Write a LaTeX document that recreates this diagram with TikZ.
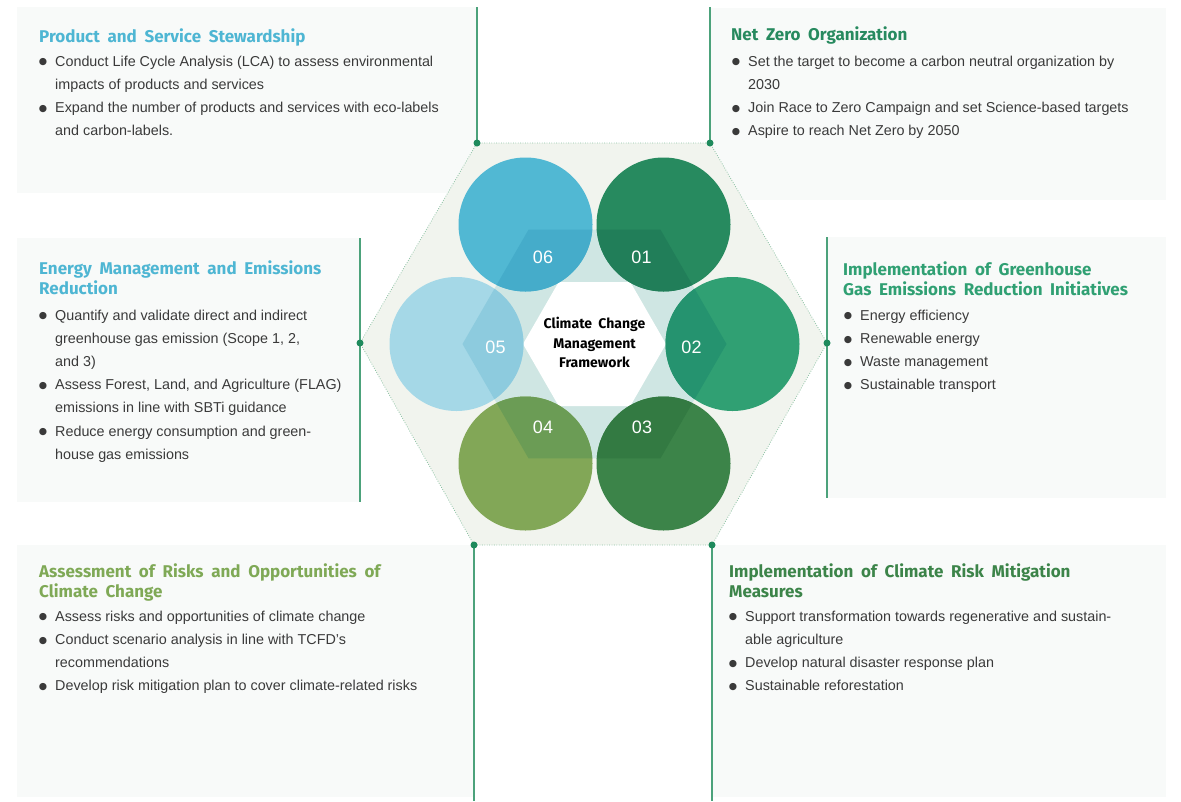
\documentclass[tikz,border=0pt]{standalone}
\usepackage{fontspec}
\setmainfont{Liberation Sans}
\newfontfamily\titlefont{Fira Sans}[WordSpace=1.9]
\newfontfamily\dejavu{DejaVu Sans}
\usetikzlibrary{calc}
\definecolor{panelbg}{HTML}{F8FAF9}
\definecolor{hexbg}{HTML}{F1F4EE}
\definecolor{hexborder}{HTML}{8CC2A4}
\definecolor{tealc}{HTML}{CFE6E3}
\definecolor{linec}{HTML}{4CA27B}
\definecolor{dotc}{HTML}{1E8A5C}
\definecolor{bodyc}{HTML}{3A3A3A}
\definecolor{cA}{HTML}{278A5F}\definecolor{cAd}{HTML}{217E59}
\definecolor{cB}{HTML}{30A073}\definecolor{cBd}{HTML}{25936F}
\definecolor{cC}{HTML}{3C8449}\definecolor{cCd}{HTML}{337A42}
\definecolor{cD}{HTML}{82A757}\definecolor{cDd}{HTML}{6B9C55}
\definecolor{cE}{HTML}{A5D8E7}\definecolor{cEd}{HTML}{8DCBDE}
\definecolor{cF}{HTML}{51B8D3}\definecolor{cFd}{HTML}{45ACCA}
\definecolor{tF}{HTML}{4EB6D3}
\definecolor{tD}{HTML}{7FA956}
\newcommand\bulsym{\raisebox{1.2pt}{\dejavu\fontsize{9.5}{9.5}\selectfont ●}}
\tikzset{
  panelbox/.style={fill=panelbg, draw=none},
  vline/.style={draw=linec, line width=1.5pt},
  dotnode/.style={circle, fill=dotc, inner sep=0pt, minimum size=7pt},
  bodytxt/.style={anchor=base west, inner sep=0pt, text=bodyc, font=\fontsize{14.35}{16}\selectfont},
  titletxt/.style={anchor=base west, inner sep=0pt, font=\titlefont\bfseries\fontsize{17}{19}\selectfont},
  numlab/.style={text=white, inner sep=0pt, font=\fontsize{18}{20}\selectfont},
  bubble/.style={circle, minimum size=134pt, inner sep=0pt, outer sep=0pt, draw=none},
  centertxt/.style={align=center, inner sep=0pt, text=black, font=\titlefont\bfseries\fontsize{14}{19.7}\selectfont},
}
\newcommand\bodylines[4]{%
  \foreach \kind/\txt [count=\i] in {#4} {
    \node[bodytxt] (#1-\i) at (#2,{#3+23.2*(\i-1)}) {\ifnum\kind=1 \llap{\bulsym\hspace{8pt}}\fi\txt};
  }}
\newcommand\titlelines[5]{%
  \foreach \txt [count=\i] in {#5} {
    \node[titletxt, text=#4] (#1-\i) at (#2,{#3+20.5*(\i-1)}) {\txt};
  }}
\begin{document}
\begin{tikzpicture}[x=1pt,y=-1pt]
\useasboundingbox (0,0) rectangle (1181,801);
% panels
\fill[panelbox] (17,7) rectangle (477,193);
\fill[panelbox] (710,8) rectangle (1166,200);
\fill[panelbox] (17,238) rectangle (360,502);
\fill[panelbox] (827,237) rectangle (1166,498);
\fill[panelbox] (17,545) rectangle (474,797);
\fill[panelbox] (712,545) rectangle (1166,797);
% hexagon corner coordinates
\coordinate (h1) at (477,143);
\coordinate (h2) at (710,143);
\coordinate (h3) at (827,343);
\coordinate (h4) at (712,545);
\coordinate (h5) at (474,545);
\coordinate (h6) at (360,343);
\fill[hexbg] (h1) -- (h2) -- (h3) -- (h4) -- (h5) -- (h6) -- cycle;
\draw[hexborder, line width=0.8pt, dash pattern=on 0.8pt off 1.6pt] (h1) -- (h2) -- (h3) -- (h4) -- (h5) -- (h6) -- cycle;
% inner hexagons
\coordinate (c) at (594.5,344);
\def\tealhex{(726.5,344) -- (660.5,229.7) -- (528.5,229.7) -- (462.5,344) -- (528.5,458.3) -- (660.5,458.3) -- cycle}
\fill[tealc] \tealhex;
\fill[white] (666,344) -- (630.3,282) -- (558.7,282) -- (523,344) -- (558.7,406) -- (630.3,406) -- cycle;
% circles
\node[bubble, fill=cA] (b01) at (663.5,224.5) {};
\node[bubble, fill=cB] (b02) at (732.5,344) {};
\node[bubble, fill=cC] (b03) at (663.5,463.5) {};
\node[bubble, fill=cD] (b04) at (525.5,463.5) {};
\node[bubble, fill=cE] (b05) at (456.5,344) {};
\node[bubble, fill=cF] (b06) at (525.5,224.5) {};
\begin{scope}
  \clip \tealhex;
  \fill[cAd] (b01.center) circle[radius=67pt];
  \fill[cBd] (b02.center) circle[radius=67pt];
  \fill[cCd] (b03.center) circle[radius=67pt];
  \fill[cDd] (b04.center) circle[radius=67pt];
  \fill[cEd] (b05.center) circle[radius=67pt];
  \fill[cFd] (b06.center) circle[radius=67pt];
\end{scope}
\node[numlab] (n06) at (543,257) {06};
\node[numlab] (n01) at (641.5,257) {01};
\node[numlab] (n05) at (495.5,347) {05};
\node[numlab] (n02) at (691.5,347) {02};
\node[numlab] (n04) at (543,427) {04};
\node[numlab] (n03) at (642,427) {03};
\node[centertxt] (ctr) at (594.5,342.5) {Climate Change\\Management\\Framework};
% connector lines and dots
\coordinate (tl-top) at (477,7);
\coordinate (tr-top) at (710,7);
\coordinate (ml-top) at (360,238);
\coordinate (ml-bot) at (360,502);
\coordinate (mr-top) at (827,237);
\coordinate (mr-bot) at (827,498);
\coordinate (bl-bot) at (474,801);
\coordinate (br-bot) at (712,801);
\draw[vline] (tl-top) -- (h1);
\draw[vline] (tr-top) -- (h2);
\draw[vline] (ml-top) -- (ml-bot);
\draw[vline] (mr-top) -- (mr-bot);
\draw[vline] (h5) -- (bl-bot);
\draw[vline] (h4) -- (br-bot);
\node[dotnode] (d1) at (h1) {};
\node[dotnode] (d2) at (h2) {};
\node[dotnode] (d3) at (h3) {};
\node[dotnode] (d4) at (h4) {};
\node[dotnode] (d5) at (h5) {};
\node[dotnode] (d6) at (h6) {};
% texts
\titlelines{pss}{39}{42}{tF}{Product and Service Stewardship}
\bodylines{pssb}{55}{66}{1/{Conduct Life Cycle Analysis (LCA) to assess environmental},0/{impacts of products and services},1/{Expand the number of products and services with eco-labels},0/{and carbon-labels.}}
\titlelines{nzo}{731}{40}{cA}{Net Zero Organization}
\bodylines{nzob}{748}{66}{1/{Set the target to become a carbon neutral organization by},0/{2030},1/{Join Race to Zero Campaign and set Science-based targets},1/{Aspire to reach Net Zero by 2050}}
\titlelines{emr}{39}{274}{tF}{{Energy Management and Emissions},{Reduction}}
\bodylines{emrb}{55}{320}{1/{Quantify and validate direct and indirect},0/{greenhouse gas emission (Scope 1, 2,},0/{and 3)},1/{Assess Forest, Land, and Agriculture (FLAG)},0/{emissions in line with SBTi guidance},1/{Reduce energy consumption and green-},0/{house gas emissions}}
\titlelines{ghg}{843}{275}{cB}{{Implementation of Greenhouse},{Gas Emissions Reduction Initiatives}}
\bodylines{ghgb}{860}{320}{1/{Energy efficiency},1/{Renewable energy},1/{Waste management},1/{Sustainable transport}}
\titlelines{aro}{39}{577}{tD}{{Assessment of Risks and Opportunities of},{Climate Change}}
\bodylines{arob}{55}{621}{1/{Assess risks and opportunities of climate change},1/{Conduct scenario analysis in line with TCFD’s},0/{recommendations},1/{Develop risk mitigation plan to cover climate-related risks}}
\titlelines{crm}{729}{577}{cC}{{Implementation of Climate Risk Mitigation},{Measures}}
\bodylines{crmb}{745}{621}{1/{Support transformation towards regenerative and sustain-},0/{able agriculture},1/{Develop natural disaster response plan},1/{Sustainable reforestation}}
\end{tikzpicture}
\end{document}
